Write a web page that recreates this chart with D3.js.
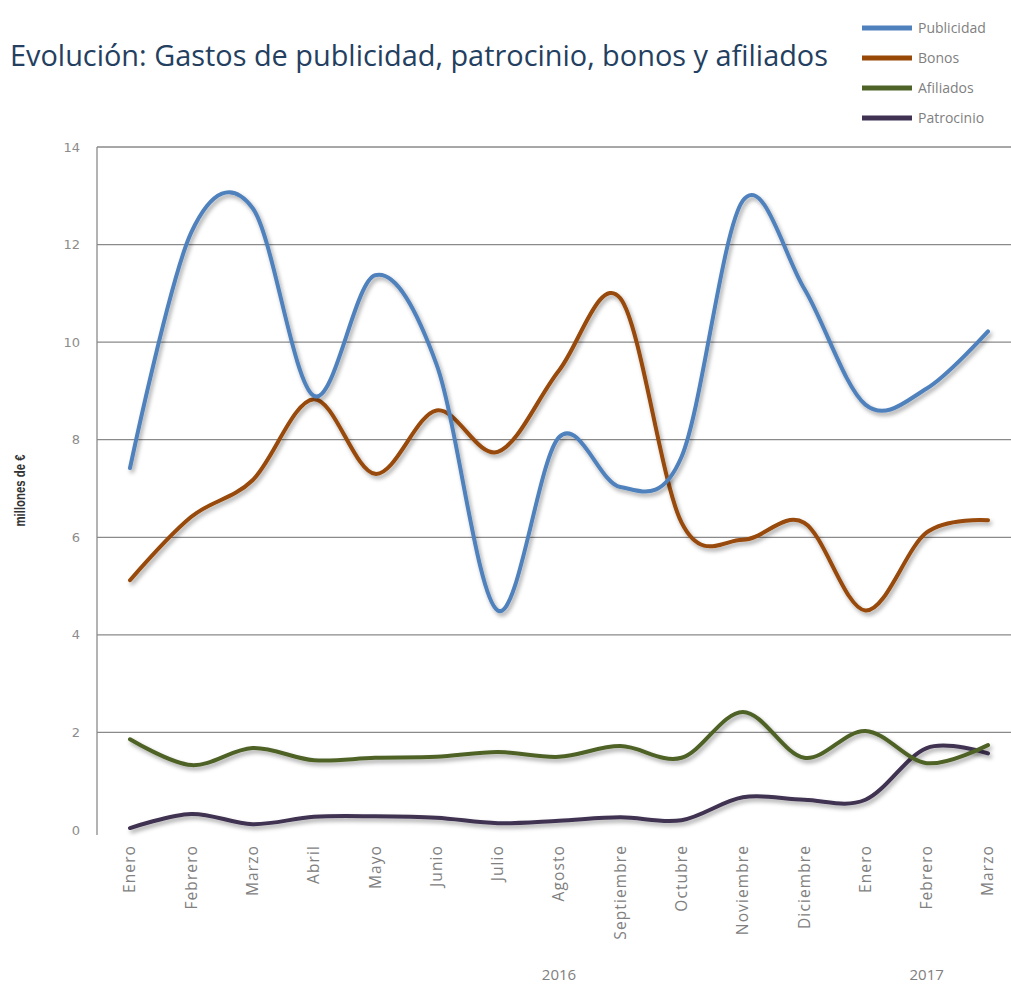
<!DOCTYPE html>
<html>
<head>
<meta charset="utf-8">
<script src="https://cdn.jsdelivr.net/npm/d3@7"></script>
<style>
  html, body { margin: 0; padding: 0; background: #fff; }
  svg { display: block; }
</style>
</head>
<body>
<svg id="chart" width="1011" height="985"></svg>
<script>
// ---- Data ----
const months = ["Enero","Febrero","Marzo","Abril","Mayo","Junio","Julio","Agosto","Septiembre","Octubre","Noviembre","Diciembre","Enero","Febrero","Marzo"];
const years = [{label: "2016", at: 7}, {label: "2017", at: 13}];
const yTicks = [0, 2, 4, 6, 8, 10, 12, 14];

const publicidad = [7.42, 12.25, 12.75, 8.9, 11.37, 9.55, 4.5, 8.05, 7.03, 7.65, 12.9, 11.1, 8.72, 9.05, 10.22];
const bonos      = [5.12, 6.42, 7.17, 8.83, 7.3, 8.6, 7.75, 9.42, 10.9, 6.3, 5.95, 6.3, 4.5, 6.1, 6.35];
const afiliados  = [1.86, 1.33, 1.68, 1.43, 1.48, 1.5, 1.6, 1.5, 1.72, 1.48, 2.42, 1.48, 2.03, 1.37, 1.74];
const patrocinio = [0.04, 0.33, 0.12, 0.27, 0.28, 0.25, 0.14, 0.19, 0.26, 0.2, 0.67, 0.62, 0.62, 1.68, 1.57];

const seriesNames = ["Publicidad", "Bonos", "Afiliados", "Patrocinio"];
const seriesColors = ["#4f81bd", "#984807", "#4f6228", "#3f3151"];
const seriesValues = [publicidad, bonos, afiliados, patrocinio];

// ---- Layout ----
const svg = d3.select("#chart");
const plotLeft = 97, plotRight = 1011, plotTop = 147, plotBottom = 830;

const x = d3.scalePoint().domain(d3.range(months.length)).range([130, 988]);
const y = d3.scaleLinear().domain([0, 14]).range([plotBottom, plotTop]);

const defs = svg.append("defs");
const f = defs.append("filter").attr("id", "shadow")
  .attr("x", "-5%").attr("y", "-5%").attr("width", "110%").attr("height", "120%");
f.append("feDropShadow").attr("dx", 2).attr("dy", 3).attr("stdDeviation", 2)
  .attr("flood-color", "#000").attr("flood-opacity", 0.35);

// Title
svg.append("text")
  .attr("x", 10).attr("y", 66)
  .attr("font-family", "'Open Sans', sans-serif")
  .attr("font-size", 29)
  .attr("fill", "#243f60")
  .attr("textLength", 818).attr("lengthAdjust", "spacingAndGlyphs")
  .text("Evolución: Gastos de publicidad, patrocinio, bonos y afiliados");

// Gridlines
svg.append("g").selectAll("line").data(yTicks.filter(d => d > 0)).join("line")
  .attr("x1", plotLeft).attr("x2", plotRight)
  .attr("y1", d => y(d)).attr("y2", d => y(d))
  .attr("stroke", "#8a8a8a").attr("stroke-width", 1.3);

// Y axis line
svg.append("line")
  .attr("x1", plotLeft).attr("x2", plotLeft)
  .attr("y1", plotTop).attr("y2", plotBottom + 5)
  .attr("stroke", "#8a8a8a").attr("stroke-width", 1.3);

// Y tick labels
svg.append("g").selectAll("text").data(yTicks).join("text")
  .attr("x", 80).attr("y", d => y(d)).attr("dy", "0.35em")
  .attr("text-anchor", "end")
  .attr("font-family", "'DejaVu Sans', sans-serif")
  .attr("font-size", 13)
  .attr("fill", "#8c8c8c")
  .text(d => d);

// Y axis title
svg.append("text")
  .attr("transform", `translate(25, ${(plotTop + plotBottom) / 2 + 2}) rotate(-90)`)
  .attr("text-anchor", "middle")
  .attr("font-family", "'Liberation Sans Narrow', 'Liberation Sans', sans-serif")
  .attr("font-size", 14)
  .attr("font-weight", "bold")
  .attr("fill", "#333")
  .attr("textLength", 72).attr("lengthAdjust", "spacingAndGlyphs")
  .text("millones de €");

// X labels
svg.append("g").selectAll("text").data(months).join("text")
  .attr("transform", (d, i) => `translate(${x(i)}, 845) rotate(-90)`)
  .attr("dy", "0.35em")
  .attr("text-anchor", "end")
  .attr("font-family", "'Open Sans', sans-serif")
  .attr("font-size", 15.5)
  .attr("letter-spacing", 1.1)
  .attr("fill", "#808080")
  .text(d => d);

// Year labels
svg.append("g").selectAll("text").data(years).join("text")
  .attr("x", d => x(d.at)).attr("y", 980)
  .attr("text-anchor", "middle")
  .attr("font-family", "'Open Sans', sans-serif")
  .attr("font-size", 15)
  .attr("fill", "#808080")
  .text(d => d.label);

// Lines
const line = d3.line()
  .x((d, i) => x(i))
  .y(d => y(d))
  .curve(d3.curveCatmullRom.alpha(0));

const drawOrder = [3, 2, 1, 0];
svg.append("g").selectAll("path").data(drawOrder).join("path")
  .attr("d", k => line(seriesValues[k]))
  .attr("fill", "none")
  .attr("stroke", k => seriesColors[k])
  .attr("stroke-width", 4)
  .attr("stroke-linecap", "round")
  .attr("stroke-linejoin", "round")
  .attr("filter", "url(#shadow)");

// Legend
const lg = svg.append("g");
const items = lg.selectAll("g").data(seriesNames).join("g")
  .attr("transform", (d, i) => `translate(862, ${28 + i * 30})`);
items.append("line")
  .attr("x1", 0).attr("x2", 50).attr("y1", 0).attr("y2", 0)
  .attr("stroke", (d, i) => seriesColors[i]).attr("stroke-width", 5);
items.append("text")
  .attr("x", 56).attr("y", 0).attr("dy", "0.35em")
  .attr("font-family", "'Open Sans', sans-serif")
  .attr("font-size", 14)
  .attr("fill", "#7f7f7f")
  .text(d => d);
</script>
</body>
</html>
